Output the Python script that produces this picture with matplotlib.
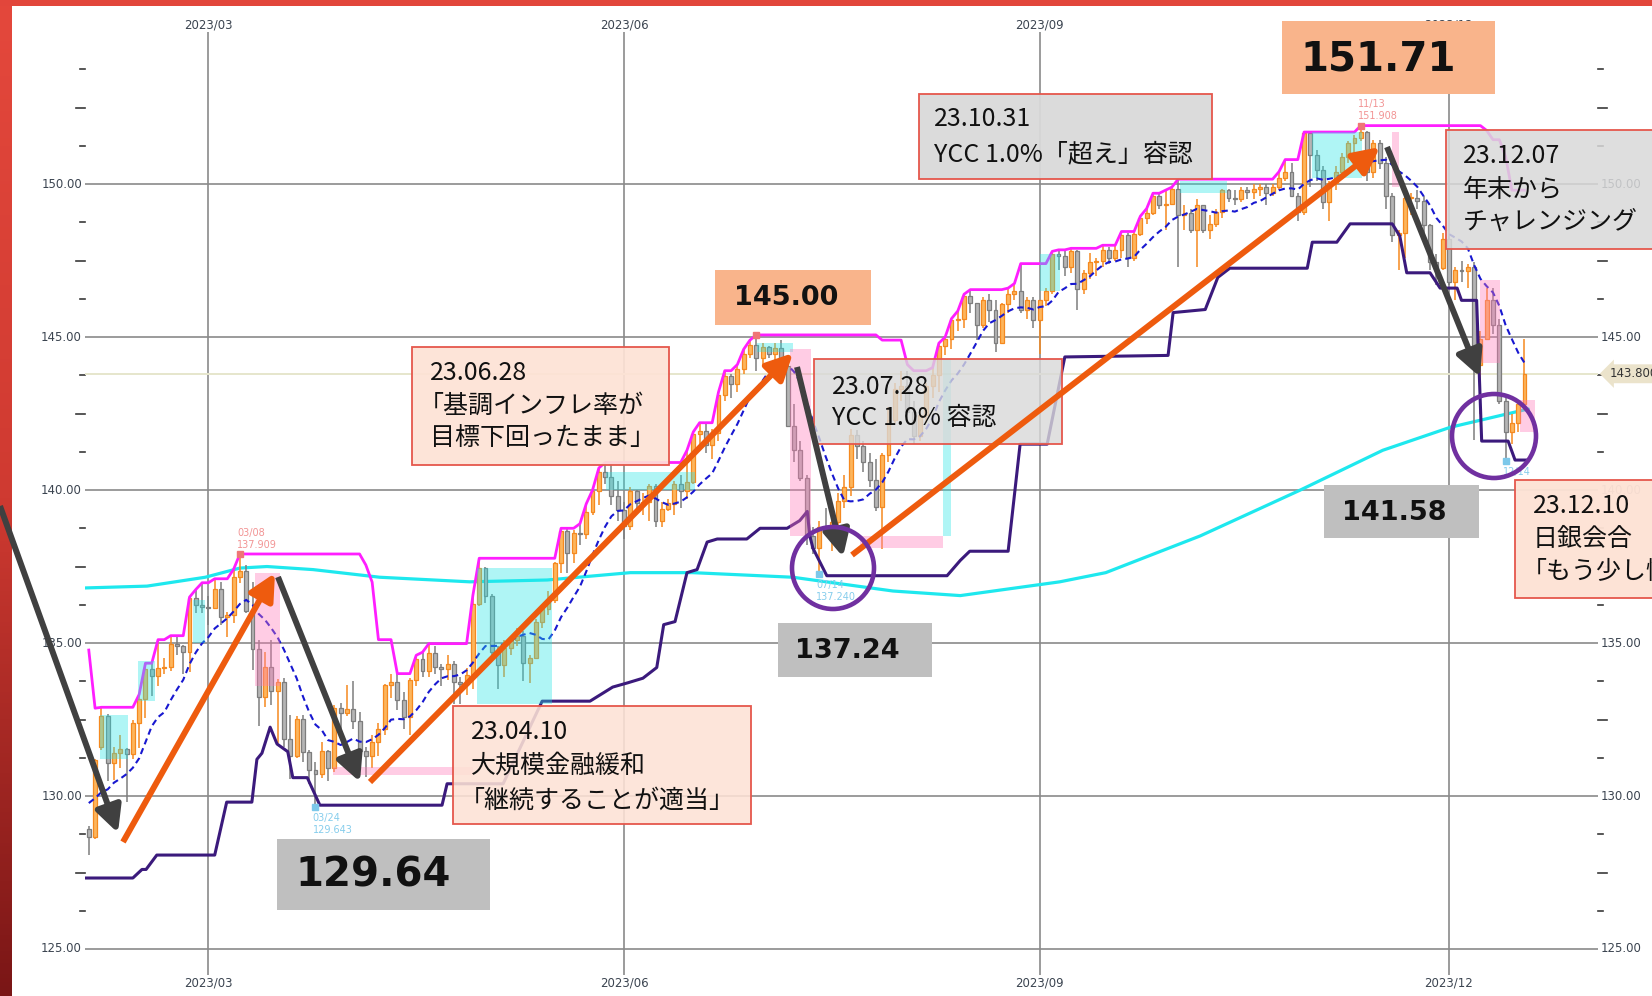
import numpy as np
import pandas as pd
import matplotlib
matplotlib.use("Agg")
import matplotlib.pyplot as plt
import matplotlib.transforms as mtransforms
from matplotlib.patches import Rectangle, FancyArrowPatch, Ellipse
from matplotlib.colors import LinearSegmentedColormap, to_rgba

plt.rcParams["font.family"] = ["DejaVu Sans", "Noto Sans CJK JP"]
JP = ["Noto Sans CJK JP", "DejaVu Sans"]
NUM = ["DejaVu Sans"]

# ------------------------------------------------------------------ data
dates = pd.bdate_range("2023-02-02", "2023-12-19")

opens = [
    # Feb
    128.93, 128.66, 131.60, 132.62, 131.07, 131.41, 131.52, 131.36, 132.38, 133.18, 134.14, 133.92, 134.19, 134.23, 134.97, 134.90, 134.71, 136.46, 136.23,
    # Mar
    136.17, 136.15, 136.75, 135.85, 135.92, 137.17, 137.36, 136.05, 134.82, 133.24, 134.22, 133.43, 133.73, 131.86, 131.30, 132.52, 131.45, 130.85, 130.73, 131.47, 130.92, 132.87, 132.70,
    # Apr
    132.85, 132.45, 131.48, 131.30, 131.78, 132.18, 133.63, 133.71, 133.13, 132.57, 133.78, 134.48, 134.10, 134.69, 134.23, 134.16, 134.30, 133.74, 133.66, 133.95,
    # May
    136.29, 137.45, 136.55, 134.70, 134.28, 134.83, 135.10, 135.22, 134.34, 134.51, 135.70, 136.10, 136.40, 137.60, 138.66, 137.95, 138.60, 138.56, 139.28, 139.96, 140.60, 140.42, 139.80,
    # Jun
    139.34, 138.84, 139.96, 139.58, 139.60, 140.12, 139.00, 139.38, 139.56, 140.20, 139.96, 140.26, 141.82, 141.93, 141.48, 141.88, 143.10, 143.72, 143.48, 143.94, 144.43, 144.74,
    # Jul
    144.31, 144.66, 144.46, 144.64, 144.06, 142.10, 141.30, 140.40, 138.50, 138.10, 138.80, 138.70, 138.95, 139.65, 140.10, 141.80, 141.45, 140.90, 140.32, 139.45, 141.15,
    # Aug
    142.30, 143.30, 143.40, 142.55, 141.75, 142.45, 143.40, 143.75, 144.70, 144.95, 145.55, 145.58, 146.35, 146.10, 145.40, 146.22, 145.90, 144.82, 146.08, 146.42, 146.52, 145.90, 146.20,
    # Sep
    145.55, 146.20, 146.50, 147.70, 147.65, 147.30, 147.82, 146.58, 147.10, 147.45, 147.48, 147.85, 147.60, 147.85, 148.35, 147.60, 148.38, 148.90, 149.05, 149.60, 149.30,
    # Oct
    149.35, 149.85, 149.00, 149.05, 148.50, 149.30, 148.50, 148.70, 149.10, 149.80, 149.55, 149.50, 149.80, 149.75, 149.85, 149.90, 149.70, 149.90, 150.20, 150.40, 149.60, 149.10,
    # Nov
    151.68, 150.95, 150.45, 149.40, 150.05, 150.40, 150.90, 151.35, 151.50, 151.70, 150.40, 151.35, 150.70, 149.60, 148.35, 148.40, 149.55, 149.55, 149.45, 148.65, 147.45, 147.25,
    # Dec
    148.20, 146.80, 147.20, 147.15, 147.30, 144.10, 144.95, 146.20, 145.40, 142.90, 141.90, 142.20, 142.80,
]
highs = [
    129.02, 131.20, 132.90, 132.68, 131.61, 131.98, 131.57, 132.50, 133.32, 134.34, 134.34, 135.11, 134.51, 135.24, 135.20, 134.93, 136.50, 136.75, 136.97,
    136.55, 137.10, 137.00, 136.00, 137.41, 137.91, 137.55, 136.99, 135.10, 134.70, 135.11, 133.83, 133.86, 132.64, 132.60, 132.64, 131.50, 131.10, 131.76, 131.50, 132.98, 133.05, 133.62,
    133.76, 132.75, 131.60, 132.00, 132.40, 133.66, 134.00, 134.00, 133.40, 133.85, 134.60, 134.70, 134.98, 134.90, 134.30, 134.60, 134.40, 133.88, 134.20, 136.56,
    137.77, 137.50, 136.60, 134.90, 135.10, 135.20, 135.50, 135.40, 134.60, 135.80, 136.20, 136.70, 137.65, 138.75, 138.74, 138.70, 138.90, 139.55, 140.00, 140.72, 140.90, 140.90, 140.30,
    139.60, 140.10, 140.00, 139.90, 140.20, 140.20, 139.60, 139.70, 140.30, 140.50, 141.30, 141.90, 142.20, 142.20, 142.00, 143.20, 143.90, 143.80, 144.10, 144.60, 144.90, 145.07,
    144.80, 144.70, 144.80, 144.90, 144.10, 142.80, 141.60, 140.50, 138.80, 139.00, 139.40, 139.30, 139.90, 140.50, 142.00, 141.95, 141.60, 141.20, 141.00, 141.20, 142.70,
    143.50, 143.90, 143.90, 142.90, 142.60, 143.50, 144.00, 144.80, 145.00, 145.60, 145.85, 146.40, 146.55, 146.10, 146.30, 146.40, 146.20, 146.10, 146.60, 146.75, 147.40, 146.30, 146.30,
    146.20, 146.60, 147.80, 147.85, 147.85, 147.90, 147.85, 147.20, 147.75, 147.60, 148.00, 147.95, 148.00, 148.45, 148.40, 148.45, 148.95, 149.20, 149.70, 149.70, 149.80,
    149.90, 150.16, 149.30, 149.20, 149.50, 149.30, 149.00, 149.20, 149.85, 149.85, 149.80, 149.90, 149.90, 150.00, 150.00, 150.00, 150.00, 150.40, 150.80, 150.70, 149.70, 151.70,
    151.70, 151.10, 150.60, 150.10, 150.60, 151.00, 151.40, 151.60, 151.91, 151.75, 151.45, 151.45, 150.90, 149.70, 148.50, 149.70, 149.70, 149.80, 149.60, 148.70, 147.70, 148.40,
    148.30, 147.30, 147.50, 147.40, 147.45, 145.20, 146.60, 146.60, 145.60, 143.00, 142.50, 142.95, 144.95,
]
lows = [
    128.08, 128.60, 131.50, 130.49, 130.53, 130.90, 129.80, 131.20, 131.58, 132.55, 133.26, 133.60, 133.99, 134.10, 134.60, 134.00, 134.05, 135.97, 135.98,
    135.60, 136.10, 135.60, 135.20, 135.65, 136.95, 135.97, 134.12, 132.29, 132.92, 132.98, 131.73, 131.61, 130.55, 131.25, 131.10, 130.40, 129.64, 130.60, 130.50, 130.80, 132.10, 132.60,
    132.20, 131.20, 130.63, 130.90, 131.30, 131.99, 133.20, 132.80, 132.20, 132.00, 133.60, 133.90, 133.90, 134.00, 133.60, 133.80, 133.00, 133.00, 133.30, 133.50,
    136.20, 136.30, 134.60, 133.50, 133.90, 134.60, 134.90, 133.75, 133.70, 134.50, 135.50, 135.90, 136.30, 137.30, 137.30, 137.60, 138.20, 138.40, 139.20, 139.50, 140.20, 139.50, 139.00,
    138.40, 138.70, 139.30, 139.20, 139.00, 138.80, 138.80, 139.30, 139.20, 139.40, 139.70, 140.20, 141.50, 141.20, 141.00, 141.60, 142.90, 143.00, 143.20, 143.80, 144.30, 143.90,
    144.10, 144.30, 144.10, 143.50, 142.10, 140.90, 140.30, 138.20, 137.90, 137.24, 138.50, 138.00, 138.60, 139.40, 139.80, 141.00, 140.60, 140.10, 139.30, 138.07, 140.90,
    142.20, 142.90, 142.30, 141.50, 141.60, 142.20, 143.00, 143.20, 144.40, 144.60, 145.20, 145.30, 145.80, 144.90, 145.30, 145.50, 144.50, 144.80, 145.80, 146.20, 145.80, 145.60, 145.30,
    144.45, 146.00, 146.40, 147.20, 147.00, 147.10, 145.90, 146.40, 146.90, 147.00, 147.30, 147.40, 147.50, 147.60, 147.30, 147.50, 148.30, 148.70, 149.00, 149.20, 148.50,
    149.30, 147.30, 148.50, 148.40, 147.30, 148.40, 148.20, 148.60, 148.90, 149.40, 149.30, 149.40, 149.50, 149.50, 149.60, 149.30, 149.60, 149.80, 150.10, 149.60, 148.80, 149.00,
    149.90, 150.10, 149.20, 148.80, 149.80, 150.20, 150.70, 151.00, 151.40, 150.10, 150.20, 150.50, 149.20, 148.10, 147.20, 147.60, 149.00, 149.20, 148.40, 147.20, 146.70, 147.20,
    146.70, 146.20, 146.80, 146.60, 141.65, 142.50, 144.90, 145.10, 142.80, 140.95, 141.50, 141.90, 142.60,
]
closes = [
    128.66, 131.19, 132.62, 131.07, 131.41, 131.52, 131.36, 132.38, 133.18, 134.14, 133.92, 134.19, 134.23, 134.97, 134.90, 134.71, 136.46, 136.23, 136.17,
    136.15, 136.75, 135.85, 135.92, 137.17, 137.36, 136.05, 134.82, 133.24, 134.22, 133.43, 133.73, 131.86, 131.30, 132.52, 131.45, 130.85, 130.73, 131.47, 130.92, 132.87, 132.70, 132.85,
    132.45, 131.48, 131.30, 131.78, 132.18, 133.63, 133.71, 133.13, 132.57, 133.78, 134.48, 134.10, 134.69, 134.23, 134.16, 134.30, 133.74, 133.66, 133.95, 136.29,
    137.45, 136.55, 134.70, 134.28, 134.83, 135.10, 135.22, 134.34, 134.51, 135.70, 136.10, 136.40, 137.60, 138.66, 137.95, 138.60, 138.56, 139.28, 139.96, 140.60, 140.42, 139.80, 139.34,
    138.84, 139.96, 139.58, 139.60, 140.12, 139.00, 139.38, 139.56, 140.20, 139.96, 140.26, 141.82, 141.93, 141.48, 141.88, 143.10, 143.72, 143.48, 143.94, 144.43, 144.74, 144.31,
    144.66, 144.46, 144.64, 144.06, 142.10, 141.30, 140.40, 138.50, 138.10, 138.80, 138.70, 138.95, 139.65, 140.10, 141.80, 141.45, 140.90, 140.32, 139.45, 141.15, 142.30,
    143.30, 143.40, 142.55, 141.75, 142.45, 143.40, 143.75, 144.70, 144.95, 145.55, 145.58, 146.35, 146.10, 145.40, 146.22, 145.90, 144.82, 146.08, 146.42, 146.52, 145.90, 146.20, 145.55,
    146.20, 146.50, 147.70, 147.65, 147.30, 147.82, 146.58, 147.10, 147.45, 147.48, 147.85, 147.60, 147.85, 148.35, 147.60, 148.38, 148.90, 149.05, 149.60, 149.30, 149.35,
    149.85, 149.00, 149.05, 148.50, 149.30, 148.50, 148.70, 149.10, 149.80, 149.55, 149.50, 149.80, 149.75, 149.85, 149.90, 149.70, 149.90, 150.20, 150.40, 149.60, 149.10, 151.68,
    150.95, 150.45, 149.40, 150.05, 150.40, 150.90, 151.35, 151.50, 151.70, 150.40, 151.35, 150.70, 149.60, 148.35, 148.40, 149.55, 149.55, 149.45, 148.65, 147.45, 147.25, 148.20,
    146.80, 147.20, 147.15, 147.30, 144.10, 144.95, 146.20, 145.40, 142.90, 141.90, 142.20, 142.80, 143.80,
]

# January 2023 history needed for the indicators at the left edge
jan_highs = [134.77, 132.67, 132.32, 132.87, 132.43, 129.30, 128.87, 128.92, 131.58, 128.92,
             130.62, 130.62, 131.11, 130.48, 130.62, 130.53, 130.51, 130.49, 130.21]
jan_closes = [129.59, 130.66, 130.15, 129.22, 130.21, 129.87, 130.31, 130.09, 128.93]

# lower channel (dark purple): (day index, price)
lower_x = [-0.6, 7.0, 8.45, 9.1, 10.8, 20.0, 21.9, 25.9, 26.7, 27.5, 28.8, 29.9, 31.6, 32.4, 34.7, 36.7,
           56.1, 56.9, 65.8, 72.0, 79.6, 83.2, 85.6, 88.0, 90.2, 91.3, 93.1, 95.0, 96.6, 98.2, 99.8,
           104.5, 106.6, 110.9, 112.9, 114.1, 114.5, 115.0, 117.2, 136.3, 138.4, 139.9, 146.0, 147.9,
           152.2, 155.0, 171.4, 172.2, 177.3, 179.3, 181.2, 193.5, 194.3, 198.2, 200.3, 207.0, 208.2,
           209.3, 213.0, 214.6, 217.3, 218.0, 220.4, 221.2, 225.4, 226.5, 228.6]
lower_y = [127.32, 127.32, 127.6, 127.6, 128.07, 128.07, 129.8, 129.8, 131.2, 131.4, 132.25, 131.7, 131.45, 130.6, 130.6, 129.7,
           129.7, 130.4, 130.4, 133.1, 133.1, 133.56, 133.7, 133.85, 134.2, 135.6, 135.7, 137.3, 137.4, 138.3, 138.4,
           138.4, 138.75, 138.75, 139.0, 139.3, 138.5, 138.1, 137.2, 137.2, 137.7, 138.0, 138.0, 141.5,
           141.5, 144.35, 144.4, 145.8, 145.9, 146.95, 147.25, 147.25, 148.1, 148.1, 148.7, 148.7, 148.3,
           147.1, 147.1, 146.6, 146.6, 146.2, 146.2, 141.6, 141.6, 140.98, 140.98]

# long moving average (cyan)
ma_long_x = [-0.6, 9.25, 18.5, 24.0, 28.3, 35.6, 46.2, 60.5, 72.8, 86.0, 95.9, 111.8, 127.7, 138.4,
             154.2, 161.5, 176.5, 192.4, 205.5, 216.2, 228.6]
ma_long_y = [136.8, 136.86, 137.15, 137.45, 137.5, 137.4, 137.15, 137.0, 137.06, 137.3, 137.3, 137.15, 136.7, 136.55,
             137.0, 137.3, 138.5, 140.0, 141.3, 142.05, 142.65]

# shaded zones: start/end day index, low/high price, kind
zone_x0 = [1.8, 7.8, 16.6, 61.7, 82.1, 106.1, 135.7, 151.1, 173.3, 194.3, 26.4, 38.8, 111.4, 122.5, 207.0, 220.9, 227.3]
zone_x1 = [6.2, 10.5, 18.5, 73.6, 96.3, 111.8, 136.9, 154.2, 180.8, 202.2, 30.4, 61.0, 114.7, 135.7, 208.0, 224.1, 229.7]
zone_lo = [131.2, 133.1, 135.0, 133.0, 140.0, 144.5, 138.5, 146.5, 149.7, 150.2, 133.6, 130.7, 138.5, 138.1, 149.9, 144.15, 141.9]
zone_hi = [132.65, 134.4, 136.4, 137.45, 140.6, 144.8, 144.25, 147.7, 150.1, 151.7, 137.3, 130.95, 144.6, 138.5, 151.7, 146.85, 142.95]
zone_kind = ["up"] * 10 + ["down"] * 7

# extreme markers (day index, kind, labels; empty label = hidden under a note)
ext_idx = [24, 36, 106, 116, 202, 225]
ext_kind = ["high", "low", "high", "low", "high", "low"]
ext_date = ["03/08", "03/24", "", "07/14", "11/13", "12/14"]
ext_text = ["137.909", "129.643", "", "137.240", "151.908", ""]

month_labels = ["2023/03", "2023/06", "2023/09", "2023/12"]
month_starts = ["2023-03-01", "2023-06-01", "2023-09-01", "2023-12-01"]
price_grid = [125, 130, 135, 140, 145, 150]
last_price = 143.80

# ------------------------------------------------------------------ figure
W, H = 1652, 996
fig = plt.figure(figsize=(W / 100, H / 100), dpi=100, facecolor="white")

bg = fig.add_axes([0, 0, 1, 1], zorder=0)
bg.axis("off")
grad = np.linspace(0, 1, 200).reshape(-1, 1)
bg.imshow(grad, extent=(0, 12, H, 0), aspect="auto", interpolation="bilinear",
          cmap=LinearSegmentedColormap.from_list("edge", ["#e4483c", "#cf3a31", "#7a1616"]))
bg.add_patch(Rectangle((0, 0), W, 6, facecolor="#e2463b", edgecolor="none"))
bg.set_xlim(0, W)
bg.set_ylim(H, 0)

AX_L, AX_R, AX_T, AX_B = 85, 1598, 32, 975
AXW = AX_R - AX_L
AXH = AX_B - AX_T
ax = fig.add_axes([AX_L / W, 1 - AX_B / H, AXW / W, AXH / H], zorder=1)
ax.set_facecolor("none")
for s in ax.spines.values():
    s.set_visible(False)
ax.set_xticks([])
ax.set_yticks([])
PX_PER_DAY = 6.297
ax.set_xlim(-0.6, -0.6 + AXW / PX_PER_DAY)
ax.set_ylim(124.15, 154.97)

n = len(closes)
xi = np.arange(n)
o = np.array(opens)
hh = np.array(highs)
ll = np.array(lows)
c = np.array(closes)

tr = mtransforms.blended_transform_factory(ax.transAxes, ax.transData)
trx = mtransforms.blended_transform_factory(ax.transData, ax.transAxes)

# grid
GRID = "#8a8a8a"
for v in price_grid:
    ax.axhline(v, color=GRID, lw=1.2, zorder=1)
month_idx = [int(dates.searchsorted(pd.Timestamp(s))) for s in month_starts]
for i, lab in zip(month_idx, month_labels):
    ax.axvline(i, color=GRID, lw=1.2, zorder=1)
    ax.text(i, 1 + 7 / AXH, lab, transform=trx, ha="center", va="center", fontsize=8.5, color="#3b4450")
    ax.text(i, -8 / AXH, lab, transform=trx, ha="center", va="center", fontsize=8.5, color="#3b4450")

# y ticks and labels on both sides
for v in np.arange(125, 155, 1.25):
    if abs(v % 5) < 1e-6:
        continue
    L = 9 if abs(v % 2.5) < 1e-6 else 5
    ax.plot([-L / AXW, 0], [v, v], transform=tr, color="#3a3a3a", lw=1.2, clip_on=False, zorder=1)
    ax.plot([1, 1 + L / AXW], [v, v], transform=tr, color="#3a3a3a", lw=1.2, clip_on=False, zorder=1)
for v in price_grid:
    ax.text(-3 / AXW, v, f"{v:.2f}", transform=tr, ha="right", va="center", fontsize=8.5, color="#3b4450")
    ax.text(1 + 3 / AXW, v, f"{v:.2f}", transform=tr, ha="left", va="center", fontsize=8.5, color="#3b4450")

# last price line + tag
ax.axhline(last_price, color="#e6e6cc", lw=1.4, zorder=1.2)
ax.text(1 + 12 / AXW, last_price, f"{last_price:.3f}", transform=tr, ha="left", va="center",
        fontsize=8.5, color="#333333", clip_on=False,
        bbox=dict(boxstyle="larrow,pad=0.25", fc="#ebe3cb", ec="none"))

# long MA (cyan)
ax.plot(ma_long_x, ma_long_y, color="#1ee8ee", lw=2.3, zorder=2, solid_capstyle="round")

# candles
UP_EDGE, UP_FILL = "#f5891f", "#fdb55c"
DN_EDGE, DN_FILL = "#7d7d7d", "#b5b5b5"
up = c >= o
edge = np.where(up, UP_EDGE, DN_EDGE)
fill = np.where(up, UP_FILL, DN_FILL)
ax.vlines(xi, ll, hh, colors=edge, lw=1.1, zorder=3)
body_lo = np.minimum(o, c)
body_h = np.maximum(np.abs(c - o), 0.04)
ax.bar(xi, body_h, bottom=body_lo, width=0.62, color=fill, edgecolor=edge, linewidth=0.9, zorder=3.2)

# indicators
ma_short = pd.Series(jan_closes + closes).rolling(10).mean().values[len(jan_closes):]
upper = pd.Series(jan_highs + highs).rolling(20).max().values[len(jan_highs):]
ax.plot(xi, ma_short, color="#1818d0", lw=1.5, ls=(0, (3, 2)), zorder=4)
ax.plot(xi, upper, color="#ff1eff", lw=2.0, zorder=4.1)
ax.plot(lower_x, lower_y, color="#3b1a7c", lw=2.2, zorder=4.1)

# shaded zones
for x0, x1, lo, hi, k in zip(zone_x0, zone_x1, zone_lo, zone_hi, zone_kind):
    col = to_rgba("#22e6e6", 0.36) if k == "up" else to_rgba("#ff7ab8", 0.38)
    ax.add_patch(Rectangle((x0, lo), x1 - x0, hi - lo, facecolor=col, edgecolor="none", zorder=5))

# extreme markers
for i, k, d, t in zip(ext_idx, ext_kind, ext_date, ext_text):
    lab = "\n".join(s for s in (d, t) if s)
    if k == "high":
        v = hh[i]
        ax.plot([i], [v], marker="s", ms=4, color="#ef7676", zorder=6)
        if lab:
            ax.annotate(lab, xy=(i, v), xytext=(-2, 3), textcoords="offset points",
                        ha="left", va="bottom", fontsize=7, color="#f29494", linespacing=1.25, zorder=6)
    else:
        v = ll[i]
        ax.plot([i], [v], marker="s", ms=4, color="#7cc8ea", zorder=6)
        if lab:
            ax.annotate(lab, xy=(i, v), xytext=(-2, -4), textcoords="offset points",
                        ha="left", va="top", fontsize=7, color="#86cdec", linespacing=1.25, zorder=6)

# ------------------------------------------------------------------ overlay annotations (pixel coords)
ov = fig.add_axes([0, 0, 1, 1], zorder=3)
ov.set_xlim(0, W)
ov.set_ylim(H, 0)
ov.axis("off")
ov.patch.set_alpha(0)

RED_EDGE = "#e5574c"
GRAY_NOTE = "#d9d9d9"
PEACH = "#fde2d5"
ORANGE_NUM = "#f9b48b"
GRAY_NUM = "#bfbfbf"


def box(x0, y0, x1, y1, fc, alpha=1.0, ec="none", z=2):
    ov.add_patch(Rectangle((x0, y0), x1 - x0, y1 - y0, facecolor=to_rgba(fc, alpha),
                           edgecolor=ec, lw=1.3, zorder=z))


def lines(x, ys, texts, size=18):
    for y, t in zip(ys, texts):
        dx = -11 if t.startswith("「") else 0
        ov.text(x + dx, y, t, fontsize=size, family=JP, ha="left", va="center", color="#111111", zorder=3)


def bignum(x, y, t, size):
    ov.text(x, y, t, fontsize=size, family=NUM, weight="bold", ha="left", va="center", color="#111111", zorder=3)


box(919, 94, 1212, 179, GRAY_NOTE, 0.95, RED_EDGE)
lines(934, [119, 154], ["23.10.31", "YCC 1.0%「超え」容認"])
box(1446, 130, 1656, 249, GRAY_NOTE, 0.85, RED_EDGE)
lines(1463, [156, 190, 222], ["23.12.07", "年末から", "チャレンジング"])
box(412, 347, 669, 465, PEACH, 0.93, RED_EDGE)
lines(430, [373, 406, 438], ["23.06.28", "「基調インフレ率が", "目標下回ったまま」"])
box(814, 359, 1062, 444, GRAY_NOTE, 0.8, RED_EDGE)
lines(832, [387, 418], ["23.07.28", "YCC 1.0% 容認"])
box(453, 706, 751, 824, PEACH, 0.88, RED_EDGE)
lines(471, [732, 766, 801], ["23.04.10", "大規模金融緩和", "「継続することが適当」"])
box(1515, 480, 1660, 598, PEACH, 0.96, RED_EDGE)
lines(1533, [506, 539, 572], ["23.12.10", "日銀会合", "「もう少し情報を」"])

box(1282, 21, 1495, 94, ORANGE_NUM)
bignum(1300, 59, "151.71", 29)
box(715, 270, 871, 325, ORANGE_NUM)
bignum(734, 298, "145.00", 19.5)
box(277, 839, 490, 910, GRAY_NUM)
bignum(295, 875, "129.64", 29)
box(778, 623, 932, 677, GRAY_NUM)
bignum(795, 651, "137.24", 19.5)
box(1324, 485, 1479, 538, GRAY_NUM)
bignum(1342, 513, "141.58", 19.5)

ARROW_GRAY = "#404040"
ARROW_ORANGE = "#ee5b0e"
arrows = [
    ((0, 506), (118, 833), ARROW_GRAY),
    ((123, 842), (275, 573), ARROW_ORANGE),
    ((278, 577), (360, 782), ARROW_GRAY),
    ((370, 782), (793, 353), ARROW_ORANGE),
    ((797, 367), (843, 557), ARROW_GRAY),
    ((852, 555), (1380, 147), ARROW_ORANGE),
    ((1387, 147), (1480, 377), ARROW_GRAY),
]
for p0, p1, col in arrows:
    ov.add_patch(FancyArrowPatch(p0, p1, arrowstyle="-|>,head_length=1.0,head_width=0.5",
                                 mutation_scale=16, lw=4.3, color=col, shrinkA=0, shrinkB=0,
                                 zorder=4, capstyle="butt"))

for cx, cy, r in [(833, 568, 41), (1494, 436, 42)]:
    ov.add_patch(Ellipse((cx, cy), 2 * r, 2 * r, fill=False, ec="#7030a0", lw=3.3, zorder=5))

fig.savefig("out.png", dpi=100, facecolor="white")
